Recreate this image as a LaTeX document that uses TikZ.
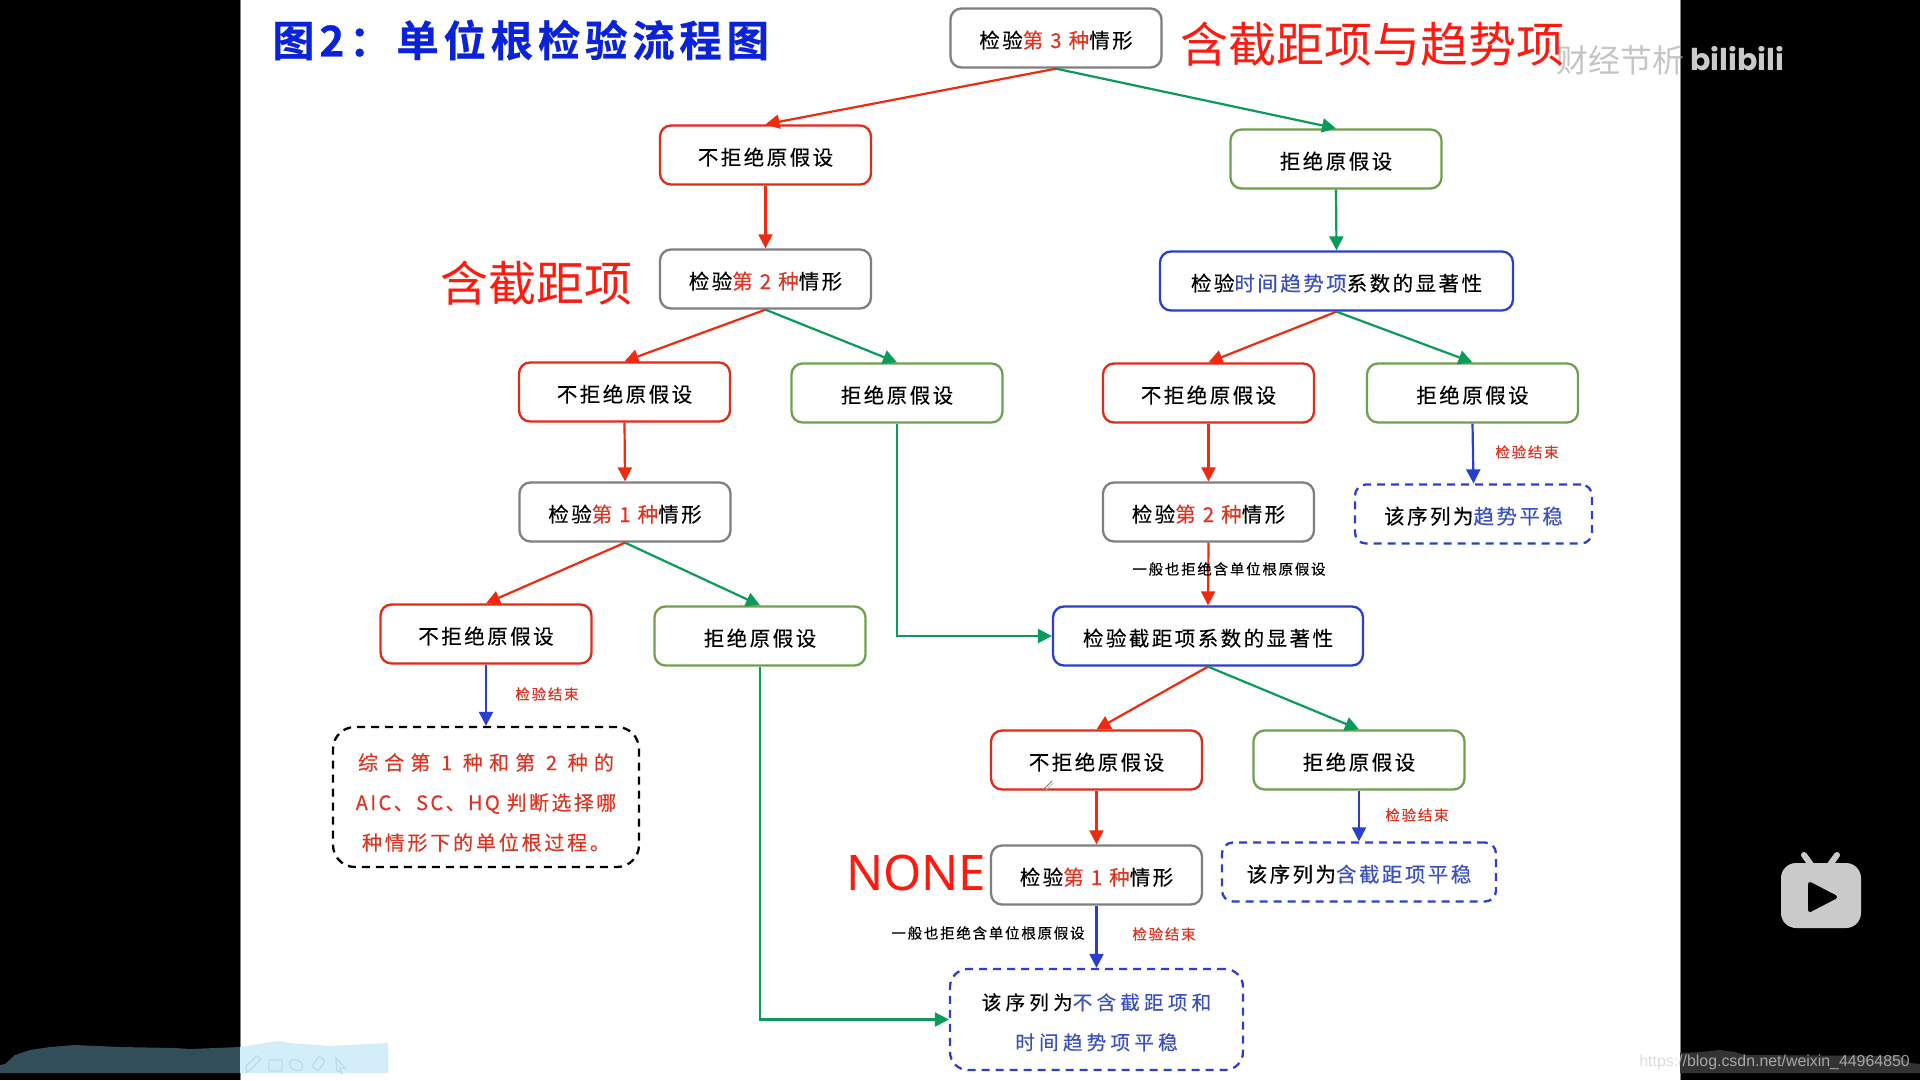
\documentclass[tikz,border=0pt]{standalone}
\usepackage{fontspec}
\usetikzlibrary{arrows.meta,positioning}
\setmainfont{Liberation Sans}
\newfontfamily\cjk[LetterSpace=12,FakeBold=0.25]{Noto Sans CJK SC}
\newfontfamily\cjkmid[LetterSpace=14,FakeBold=0.25]{Noto Sans CJK SC}
\newfontfamily\cjkmore[LetterSpace=22,FakeBold=0.25]{Noto Sans CJK SC}
\newfontfamily\cjkwide[LetterSpace=31,FakeBold=0.25]{Noto Sans CJK SC}
\newfontfamily\cjkplain{Noto Sans CJK SC}
\newfontfamily\cjktitle[LetterSpace=11,FakeBold=0.6]{Noto Sans CJK SC Bold}
\newfontfamily\notolatin{Noto Sans}
\newfontfamily\bilifont{Poppins}
\definecolor{cred}{HTML}{E12A18}
\definecolor{cgreen}{HTML}{6FA050}
\definecolor{cgray}{HTML}{7F7F7F}
\definecolor{cblue}{HTML}{2A3FD0}
\definecolor{agreen}{HTML}{0A9B5A}
\definecolor{ared}{HTML}{EE2A10}
\definecolor{tblue}{HTML}{3B50C0}
\definecolor{tred}{HTML}{DD3320}
\definecolor{bigred}{HTML}{FF1A10}
\definecolor{titleblue}{HTML}{0A23D8}
\definecolor{banddark}{HTML}{314E59}
\definecolor{bandlight}{HTML}{D3EEF9}
\definecolor{bandgray}{HTML}{333333}
\definecolor{iconcol}{HTML}{BCDDE9}
\definecolor{tvgray}{HTML}{CACACA}
\newcommand{\rt}[1]{\textcolor{tred}{#1}}
\newcommand{\bt}[1]{\textcolor{tblue}{#1}}
\tikzset{
  flowbox/.style={rectangle,rounded corners=11pt,line width=2.3pt,fill=white,inner sep=0pt,
    minimum width=211pt,minimum height=59pt,align=center,text=black,
    text height=21pt,text depth=1pt,
    font=\cjk\fontsize{20.5}{24}\selectfont},
  redbox/.style={flowbox,draw=cred},
  greenbox/.style={flowbox,draw=cgreen},
  graybox/.style={flowbox,draw=cgray},
  bluebox/.style={flowbox,draw=cblue},
  dashbox/.style={flowbox,dash pattern=on 8pt off 6pt},
  conn/.style={line width=2.2pt,-{Triangle[length=14pt,width=14pt]}},
  redline/.style={conn,draw=ared},
  greenline/.style={conn,draw=agreen},
  blueline/.style={conn,draw=cblue},
  smallnote/.style={inner sep=0pt,font=\cjk\fontsize{14.5}{16}\selectfont},
  bignote/.style={inner sep=0pt,text=bigred,font=\cjkplain\fontsize{48}{54}\selectfont},
  iconstroke/.style={draw=iconcol,line width=1.4pt}
}
\begin{document}
\begin{tikzpicture}[x=1pt,y=-1pt]
\useasboundingbox (0,0) rectangle (1920,1080);
\fill[black] (0,0) rectangle (1920,1080);
\fill[white] (240,0) rectangle (1680,1080);
\draw[gray,line width=1pt] (240,0) -- (240,1080);
\draw[gray,line width=1pt] (1680,0) -- (1680,1080);
% bottom bands
\fill[banddark] (0,1065) -- (5,1064) -- (15,1055) -- (30,1050) -- (50,1047) -- (75,1045) -- (120,1047) -- (175,1048) -- (190,1049) -- (240,1047) -- (240,1073) -- (0,1073) -- cycle;
\fill[bandlight] (240,1047) -- (265,1043) -- (278,1041) -- (290,1043) -- (330,1046) -- (388,1043) -- (388,1073) -- (240,1073) -- cycle;
\fill[bandgray] (1680,1053) -- (1700,1052) -- (1720,1050) -- (1735,1052) -- (1745,1055) -- (1900,1056) -- (1910,1063) -- (1920,1064) -- (1920,1073) -- (1680,1073) -- cycle;
% toolbar icons
\draw[iconstroke] (247,1072) -- (246,1066) -- (257,1056) -- (261,1059) -- (250,1070) -- cycle;
\draw[iconstroke,rounded corners=1pt] (269,1060) rectangle (282,1071);
\draw[iconstroke] (296,1065) ellipse [x radius=7,y radius=5,rotate=-25];
\draw[iconstroke,rounded corners=1pt] (312,1066) -- (319,1056) -- (325,1061) -- (318,1071) -- cycle;
\draw[iconstroke] (336,1058) -- (345,1068) -- (340,1068) -- (342,1073) -- (339,1071) -- (337,1071) -- cycle;
% watermark
\node[anchor=center,inner sep=0pt,text=black!35,text opacity=0.65,font=\cjkplain\fontsize{32}{36}\selectfont] (wm) at (1620,60) {财经节析};
\node[anchor=center,inner sep=0pt,text=tvgray,font=\bilifont\bfseries\fontsize{30}{36}\selectfont] (bili) at (1737,59) {bilibili};
% TV icon
\draw[line width=6pt,line cap=round,draw=tvgray] (1804,855) -- (1812,866);
\draw[line width=6pt,line cap=round,draw=tvgray] (1837,855) -- (1829,866);
\fill[tvgray,rounded corners=15pt] (1781,863) rectangle (1861,928);
\filldraw[black,line width=4pt,line join=round] (1810,884) -- (1835,897) -- (1810,910) -- cycle;
\node[anchor=east,inner sep=0pt,text={rgb,255:red,209;green,209;blue,209},text opacity=0.73,font=\fontsize{15.9}{20}\selectfont] (csdn) at (1910,1062) {https://blog.csdn.net/weixin\_44964850};
% title
\node[anchor=west,inner sep=0pt,text=titleblue,font=\cjktitle\fontsize{42.5}{48}\selectfont] (title) at (272,40) {图2：单位根检验流程图};
% boxes
\node[graybox]  (A) at (1056,38)   {检验\rt{第 3 种}情形};
\node[redbox]   (B) at (765.5,155) {不拒绝原假设};
\node[greenbox] (C) at (1336,159)  {拒绝原假设};
\node[graybox]  (D) at (765.5,279) {检验\rt{第 2 种}情形};
\node[bluebox,minimum width=353pt] (E) at (1336.5,281) {检验\bt{时间趋势项}系数的显著性};
\node[redbox]   (F) at (624.5,392) {不拒绝原假设};
\node[greenbox] (G) at (897,393)   {拒绝原假设};
\node[redbox]   (H) at (1208.5,393) {不拒绝原假设};
\node[greenbox] (I) at (1472.5,393) {拒绝原假设};
\node[graybox]  (J) at (625,512)   {检验\rt{第 1 种}情形};
\node[graybox]  (K) at (1208.5,512) {检验\rt{第 2 种}情形};
\node[dashbox,draw=cblue,minimum width=237pt] (L) at (1473.5,514) {该序列为\bt{趋势平稳}};
\node[redbox]   (M) at (486,634)   {不拒绝原假设};
\node[greenbox] (N) at (760,636)   {拒绝原假设};
\node[bluebox,minimum width=310pt] (O) at (1208,636) {检验截距项系数的显著性};
\node[dashbox,draw=black,minimum width=306pt,minimum height=140pt,rounded corners=22pt,text=tred,text height={},text depth={},font=\cjkmid\fontsize{20}{40}\selectfont] (P) at (486,797) {\rule{0pt}{28pt}{\cjkwide 综合第 1 种和第 2 种的}\\{\cjk AIC、SC、HQ 判断选择哪}\\种情形下的单位根过程。};
\node[redbox]   (Q) at (1096.5,760) {不拒绝原假设};
\node[greenbox] (R) at (1359,760)  {拒绝原假设};
\node[graybox]  (S) at (1096.5,875) {检验\rt{第 1 种}情形};
\node[dashbox,draw=cblue,minimum width=274pt] (T) at (1359,872) {该序列为\bt{含截距项平稳}};
\node[dashbox,draw=cblue,minimum width=293pt,minimum height=101pt,rounded corners=18pt,text height={},text depth={},font=\cjkmore\fontsize{19.5}{40}\selectfont] (U) at (1096.5,1019.5) {\rule{0pt}{22pt}该序列为\bt{不含截距项和}\\\bt{时间趋势项平稳}};
% connectors
\draw[redline]   (A.south) -- (B.north);
\draw[greenline] (A.south) -- (C.north);
\draw[redline]   (B.south) -- (D.north);
\draw[greenline] (C.south) -- (E.north);
\draw[redline]   (D.south) -- (F.north);
\draw[greenline] (D.south) -- (G.north);
\draw[redline]   (E.south) -- (H.north);
\draw[greenline] (E.south) -- (I.north);
\draw[redline]   (F.south) -- (J.north);
\draw[redline]   (H.south) -- (K.north);
\draw[blueline]  (I.south) -- (L.north);
\draw[redline]   (J.south) -- (M.north);
\draw[greenline] (J.south) -- (N.north);
\draw[redline]   (K.south) -- (O.north);
\draw[greenline] (G.south) |- (O.west);
\draw[blueline]  (M.south) -- (P.north);
\draw[redline]   (O.south) -- (Q.north);
\draw[greenline] (O.south) -- (R.north);
\draw[redline]   (Q.south) -- (S.north);
\draw[blueline]  (R.south) -- (T.north);
\draw[blueline]  (S.south) -- (U.north);
\draw[greenline] (N.south) |- (U.west);
% cursor scratch on the box
\draw[gray,line width=0.8pt] (1043,790) -- (1052,781);
\draw[iconcol!70!gray,line width=0.8pt] (1046,790) -- (1053,783);
% notes
\node[smallnote,text=tred] (n1) at (1527,452) {检验结束};
\node[smallnote,text=tred] (n2) at (547,694)  {检验结束};
\node[smallnote,text=tred] (n3) at (1417,815) {检验结束};
\node[smallnote,text=tred] (n4) at (1164,934) {检验结束};
\node[smallnote,text=black] (n5) at (1229,569) {一般也拒绝含单位根原假设};
\node[smallnote,text=black] (n6) at (988,933)  {一般也拒绝含单位根原假设};
% big labels
\node[bignote] (b1) at (1372,44)  {含截距项与趋势项};
\node[bignote] (b2) at (536,283)  {含截距项};
\node[bignote,font=\notolatin\fontsize{49}{54}\selectfont] (b3) at (916,873) {NONE};
\end{tikzpicture}
\end{document}
